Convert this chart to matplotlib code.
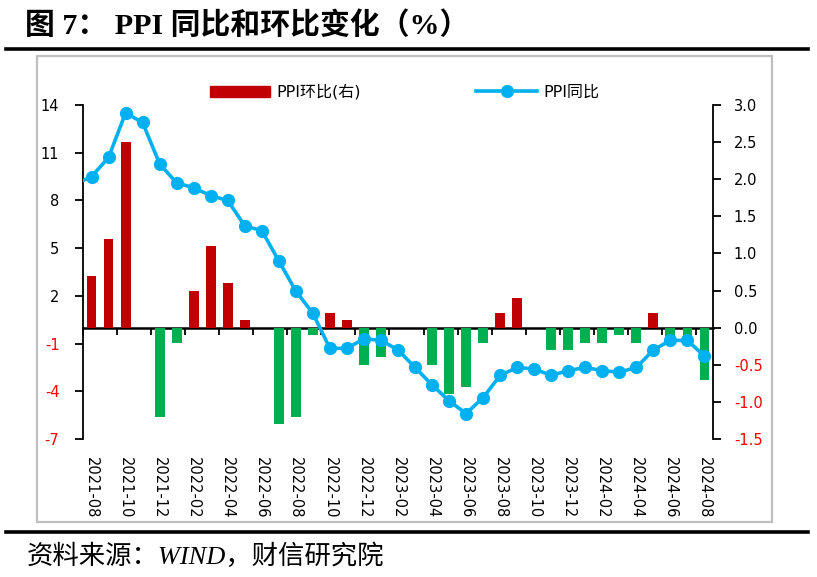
"""PPI 同比 / 环比 双轴图"""

import numpy as np
import matplotlib

matplotlib.use("Agg")
import matplotlib.pyplot as plt
from matplotlib.patches import Rectangle
from matplotlib.lines import Line2D

plt.rcParams["font.family"] = ["DejaVu Sans", "Noto Sans CJK SC"]
plt.rcParams["axes.unicode_minus"] = False

OUTPUT_PNG = "out.png"

TITLE = "图 7： PPI 同比和环比变化（%）"
SOURCE = "资料来源：WIND，财信研究院"
LABEL_MOM = "PPI环比(右)"
LABEL_YOY = "PPI同比"

MONTHS = [
    "2021-08", "2021-09", "2021-10", "2021-11", "2021-12",
    "2022-01", "2022-02", "2022-03", "2022-04", "2022-05", "2022-06",
    "2022-07", "2022-08", "2022-09", "2022-10", "2022-11", "2022-12",
    "2023-01", "2023-02", "2023-03", "2023-04", "2023-05", "2023-06",
    "2023-07", "2023-08", "2023-09", "2023-10", "2023-11", "2023-12",
    "2024-01", "2024-02", "2024-03", "2024-04", "2024-05", "2024-06",
    "2024-07", "2024-08",
]

# 环比（右轴）
MOM = [
    0.7, 1.2, 2.5, 0.0, -1.2,
    -0.2, 0.5, 1.1, 0.6, 0.1, 0.0,
    -1.3, -1.2, -0.1, 0.2, 0.1, -0.5,
    -0.4, 0.0, 0.0, -0.5, -0.9, -0.8,
    -0.2, 0.2, 0.4, 0.0, -0.3, -0.3,
    -0.2, -0.2, -0.1, -0.2, 0.2, -0.2,
    -0.2, -0.7,
]

# 同比（左轴），2021-07 的值只用于画出左侧被裁掉的线段
YOY_PREV = 9.0
YOY = [
    9.5, 10.7, 13.5, 12.9, 10.3,
    9.1, 8.8, 8.3, 8.0, 6.4, 6.1,
    4.2, 2.3, 0.9, -1.3, -1.3, -0.7,
    -0.8, -1.4, -2.5, -3.6, -4.6, -5.4,
    -4.4, -3.0, -2.5, -2.6, -3.0, -2.7,
    -2.5, -2.7, -2.8, -2.5, -1.4, -0.8,
    -0.8, -1.8,
]

LEFT_TICKS = [-7, -4, -1, 2, 5, 8, 11, 14]
RIGHT_TICKS = [-1.5, -1.0, -0.5, 0.0, 0.5, 1.0, 1.5, 2.0, 2.5, 3.0]

RED = "#C00000"
GREEN = "#00B050"
BLUE = "#00B0F0"
NEG_RED = "#FF0000"


def build_figure():
    fig = plt.figure(figsize=(8.17, 5.77), dpi=100)

    # 外框、标题线、来源线
    fig.add_artist(Rectangle((37 / 817, 1 - 522 / 577), 735 / 817, 466 / 577,
                             transform=fig.transFigure, fill=False,
                             edgecolor="#BFBFBF", linewidth=1.6))
    for y in (1 - 49 / 577, 1 - 532 / 577):
        fig.add_artist(Line2D([6 / 817, 808 / 817], [y, y], transform=fig.transFigure,
                              color="black", linewidth=2.6))
    fig.text(25 / 817, 1 - 26 / 577, TITLE, fontsize=21.5, fontweight="bold",
             family=["Liberation Serif", "Noto Sans CJK SC"], ha="left", va="center")
    fig.text(27 / 817, 1 - 556 / 577, SOURCE, fontsize=19, style="italic",
             family=["Liberation Serif", "Noto Sans CJK SC"], ha="left", va="center")

    ax = fig.add_axes([83 / 817, 1 - 439 / 577, 630 / 817, 334 / 577])
    ax2 = ax.twinx()

    x = np.arange(len(MONTHS))
    mom = np.array(MOM)
    colors = [RED if v >= 0 else GREEN for v in mom]
    ax.bar(x, mom, width=0.58, color=colors, zorder=2)

    x_yoy = np.arange(-1, len(MONTHS))
    ax2.plot(x_yoy, [YOY_PREV] + YOY, color=BLUE, linewidth=2.6, marker="o",
             markersize=8.5, zorder=3)

    ax.set_xlim(-0.5, len(MONTHS) - 0.5)
    ax.set_ylim(RIGHT_TICKS[0], RIGHT_TICKS[-1])
    ax2.set_ylim(LEFT_TICKS[0], LEFT_TICKS[-1])

    # 右轴（环比）放在 ax 上，左轴（同比）放在 ax2 上
    ax.yaxis.tick_right()
    ax2.yaxis.tick_left()
    ax.set_yticks(RIGHT_TICKS)
    ax.set_yticklabels([f"{v:.1f}" for v in RIGHT_TICKS])
    ax2.set_yticks(LEFT_TICKS)
    ax2.set_yticklabels([str(v) for v in LEFT_TICKS])
    for lbl, v in zip(ax.get_yticklabels(), RIGHT_TICKS):
        lbl.set_color(NEG_RED if v < 0 else "black")
    for lbl, v in zip(ax2.get_yticklabels(), LEFT_TICKS):
        lbl.set_color(NEG_RED if v < 0 else "black")
    ax.tick_params(axis="y", direction="out", length=6, width=1.3, pad=9, labelsize=10.5)
    ax2.tick_params(axis="y", direction="out", length=6, width=1.3, pad=11, labelsize=10.5)

    for a in (ax, ax2):
        for side in ("top", "bottom"):
            a.spines[side].set_visible(False)
        a.set_facecolor("none")
    ax.spines["left"].set_visible(False)
    ax.spines["right"].set_linewidth(1.3)
    ax2.spines["right"].set_visible(False)
    ax2.spines["left"].set_linewidth(1.3)

    # 月份标签在底部，刻度线在零轴上
    ax.set_xticks(x[::2])
    ax.set_xticklabels(MONTHS[::2], rotation=270, fontsize=10.5)
    ax.tick_params(axis="x", length=0, pad=13)

    zero_pos = (0 - RIGHT_TICKS[0]) / (RIGHT_TICKS[-1] - RIGHT_TICKS[0])
    sec = ax.secondary_xaxis(zero_pos)
    sec.set_xticks(np.arange(-0.5, len(MONTHS), 2))
    sec.set_xticklabels([])
    sec.tick_params(axis="x", direction="out", length=5, width=1.3)
    sec.spines["bottom"].set_linewidth(1.8)

    handles = [
        Rectangle((0, 0), 1, 1, color=RED),
        Line2D([], [], color=BLUE, linewidth=2.6, marker="o", markersize=8.5),
    ]
    fig.legend(handles, [LABEL_MOM, LABEL_YOY], loc="center",
               bbox_to_anchor=(0.495, 1 - 92 / 577), ncol=2, frameon=False,
               fontsize=11.5, handlelength=3.8, handletextpad=0.4, columnspacing=7.2)
    return fig


if __name__ == "__main__":
    fig = build_figure()
    fig.savefig(OUTPUT_PNG, dpi=100)
